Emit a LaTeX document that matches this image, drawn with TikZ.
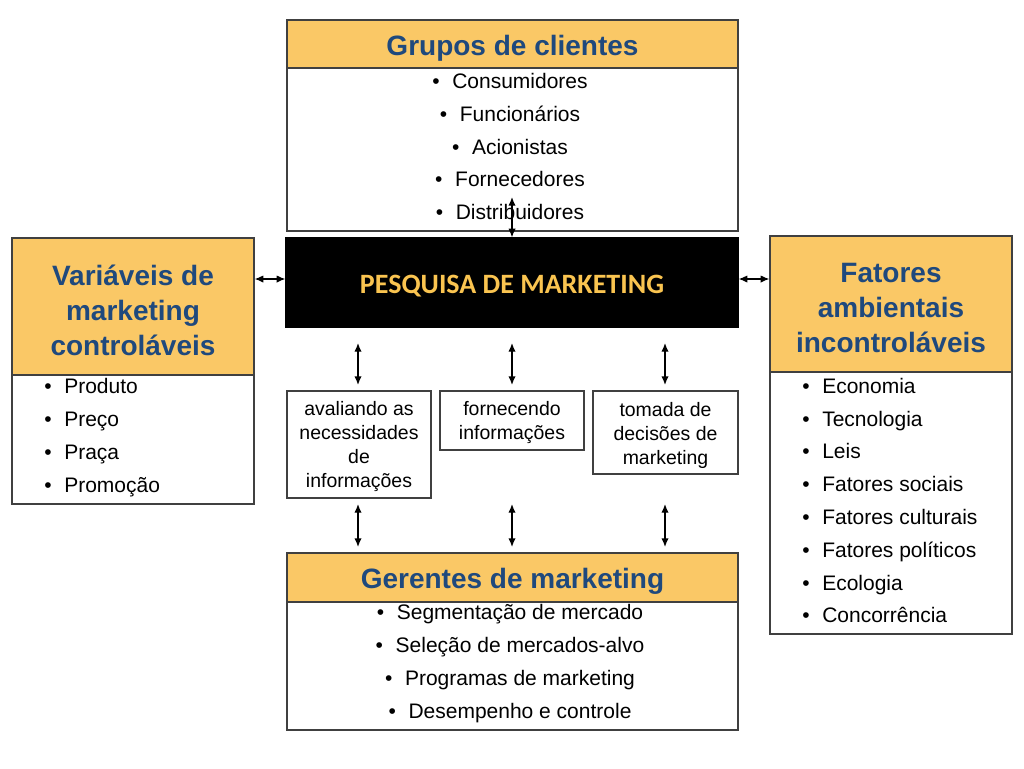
\documentclass[tikz,border=0pt]{standalone}
\usepackage{fontspec}
\setmainfont{Liberation Sans}
\newfontfamily\calib{Carlito}
\usetikzlibrary{arrows.meta}
\definecolor{hdrfill}{RGB}{250,200,102}
\definecolor{ttlblue}{RGB}{31,73,125}
\definecolor{pesq}{RGB}{250,196,80}
\definecolor{edgegray}{RGB}{64,64,64}
\tikzset{
 box/.style={draw=edgegray, line width=0.9pt, fill=white, inner sep=0pt, anchor=center},
 hdr/.style={box, fill=hdrfill},
 ttl/.style={font=\fontsize{21}{26.25}\selectfont\bfseries, text=ttlblue, align=center, inner sep=0pt},
 lst/.style={font=\fontsize{15.75}{24.75}\selectfont, inner sep=0pt},
 sml/.style={font=\fontsize{14.6}{18}\selectfont, align=center, inner sep=0pt},
 arr/.style={line width=1pt, {Latex[length=6.5pt,width=5.5pt]}-{Latex[length=6.5pt,width=5.5pt]}},
}
\newcommand{\bul}{\makebox[15pt][l]{•}}
\begin{document}
\begin{tikzpicture}[x=0.75pt,y=-0.75pt]
\useasboundingbox[fill=white] (0,0) rectangle (1024,768);
% top box
\node[hdr, minimum width=338.25pt, minimum height=36pt] (th) at (512.5,44) {};
\node[box, minimum width=338.25pt, minimum height=122.25pt] (tb) at (512.5,149.5) {};
\node[ttl] (tht) at (512.5,48) {Grupos de clientes};
\node[lst, align=center, font=\fontsize{15.75}{24.4}\selectfont] (tbl) at (510,146.5)
 {\bul Consumidores\\ \bul Funcionários\\ \bul Acionistas\\ \bul Fornecedores\\ \bul Distribuidores};
% black box
\node[box, draw=black, fill=black, minimum width=339pt, minimum height=66.75pt] (blk) at (512,282.5) {};
\node[inner sep=0pt, font=\calib\fontsize{21}{24}\selectfont\bfseries, text=pesq] (blkt) at (512,286.5) {PESQUISA DE MARKETING};
% left box
\node[hdr, minimum width=181.5pt, minimum height=102.75pt] (lh) at (133,306.5) {};
\node[box, minimum width=181.5pt, minimum height=96.75pt] (lb) at (133,439.5) {};
\node[ttl] (lht) at (133,310) {Variáveis de\\marketing\\controláveis};
\node[lst, align=left, anchor=west, font=\fontsize{15.75}{24.75}\selectfont] (lbl) at (44,438)
 {\bul Produto\\ \bul Preço\\ \bul Praça\\ \bul Promoção};
% right box
\node[hdr, minimum width=181.5pt, minimum height=102pt] (rh) at (891,304) {};
\node[box, minimum width=181.5pt, minimum height=196.5pt] (rb) at (891,503) {};
\node[ttl] (rht) at (891,308) {Fatores\\ambientais\\incontroláveis};
\node[lst, align=left, anchor=west, font=\fontsize{15.75}{24.6}\selectfont] (rbl) at (802,500.5)
 {\bul Economia\\ \bul Tecnologia\\ \bul Leis\\ \bul Fatores sociais\\ \bul Fatores culturais\\ \bul Fatores políticos\\ \bul Ecologia\\ \bul Concorrência};
% bottom box
\node[hdr, minimum width=338.25pt, minimum height=36.75pt] (bh) at (512.5,577.5) {};
\node[box, minimum width=338.25pt, minimum height=96pt] (bb) at (512.5,666) {};
\node[ttl] (bht) at (512.5,581) {Gerentes de marketing};
\node[lst, align=center, font=\fontsize{15.75}{24.75}\selectfont] (bbl) at (510,664)
 {\bul Segmentação de mercado\\ \bul Seleção de mercados-alvo\\ \bul Programas de marketing\\ \bul Desempenho e controle};
% small boxes
\node[box, minimum width=108pt, minimum height=80.25pt] (s1) at (359,444.5) {};
\node[sml] (s1t) at (359,447) {avaliando as\\necessidades\\de\\informações};
\node[box, minimum width=108pt, minimum height=44.25pt] (s2) at (512,420.5) {};
\node[sml] (s2t) at (512,423) {fornecendo\\informações};
\node[box, minimum width=108.75pt, minimum height=62.25pt] (s3) at (665.5,432.5) {};
\node[sml] (s3t) at (665.5,435) {tomada de\\decisões de\\marketing};
% connector ends
\coordinate (ta) at (512,197);
\coordinate (m1a) at (358,343); \coordinate (m1b) at (358,385);
\coordinate (m2a) at (512,343); \coordinate (m2b) at (512,385);
\coordinate (m3a) at (665,343); \coordinate (m3b) at (665,385);
\coordinate (n1a) at (358,504); \coordinate (n1b) at (358,547);
\coordinate (n2a) at (512,504); \coordinate (n2b) at (512,547);
\coordinate (n3a) at (665,504); \coordinate (n3b) at (665,547);
% connectors
\draw[arr] (ta) -- (blk.north);
\draw[arr] (lh.east |- 0,279) -- (blk.west |- 0,279);
\draw[arr] (blk.east |- 0,279) -- (rh.west |- 0,279);
\draw[arr] (m1a) -- (m1b);
\draw[arr] (m2a) -- (m2b);
\draw[arr] (m3a) -- (m3b);
\draw[arr] (n1a) -- (n1b);
\draw[arr] (n2a) -- (n2b);
\draw[arr] (n3a) -- (n3b);
\end{tikzpicture}
\end{document}
